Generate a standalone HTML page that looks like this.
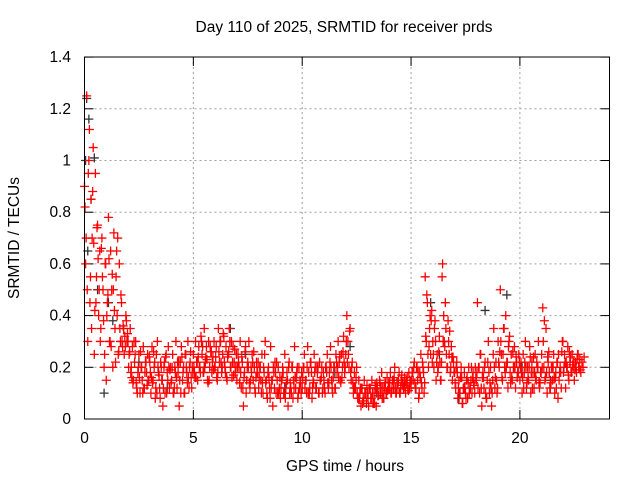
<!DOCTYPE html>
<html><head><meta charset="utf-8"><style>
body{margin:0;background:#fff}
svg{display:block;font-family:"Liberation Sans",sans-serif}
</style></head><body>
<svg id="chart" width="640" height="480" viewBox="0 0 640 480">
<rect width="640" height="480" fill="#fff"/>
<text x="344" y="32" font-size="15.5" text-anchor="middle">Day 110 of 2025, SRMTID for receiver prds</text>
<text x="345" y="471" font-size="15.5" text-anchor="middle">GPS time / hours</text>
<text transform="translate(19,238) rotate(-90)" font-size="15.5" text-anchor="middle">SRMTID / TECUs</text>
<g id="grid"></g>
<g id="ticks"></g>
<g id="pts"></g>
<rect x="84.5" y="57" width="525" height="362" fill="none" stroke="#000"/>
</svg>
<script>
const xTicks=[0,5,10,15,20];
const yTicks=[0,0.2,0.4,0.6,0.8,1,1.2,1.4];
const yTickLabels=["0","0.2","0.4","0.6","0.8","1","1.2","1.4"];
const redStep=0.05;
const redA=[
0.9,0.6,1.25,0.3,1.0,0.45,0.85,0.7,1.05,0.25,0.95,0.55,0.75,0.4,0.65,0.35,0.7,0.5,0.2,0.6,
0.15,0.45,0.78,0.3,0.65,0.5,0.2,0.72,0.35,0.55,0.4,0.25,0.6,0.3,0.45,0.28,0.35,0.32,0.4,0.3,
0.3,0.25,0.35,0.2,0.28,0.15,0.22,0.3,0.12,0.18,0.25,0.1,0.2,0.15,0.28,0.12,0.22,0.18,0.25,0.15,
0.22,0.1,0.28,0.15,0.2,0.08,0.25,0.3,0.18,0.12,0.22,0.15,0.05,0.2,0.1,0.25,0.18,0.28,0.12,0.2,
0.15,0.25,0.1,0.2,0.3,0.12,0.18,0.05,0.22,0.28,0.15,0.2,0.1,0.25,0.18,0.3,0.12,0.22,0.16,0.2,
0.25,0.18,0.3,0.22,0.15,0.28,0.2,0.32,0.25,0.18,0.35,0.22,0.28,0.15,0.3,0.2,0.26,0.18,0.24,0.3,
0.2,0.28,0.15,0.35,0.22,0.3,0.18,0.25,0.32,0.2,0.28,0.15,0.25,0.35,0.2,0.3,0.22,0.17,0.27,0.2,
0.15,0.25,0.2,0.3,0.12,0.22,0.05,0.18,0.28,0.15,0.22,0.3,0.12,0.2,0.25,0.15,0.2,0.1,0.22,0.18,
0.12,0.2,0.15,0.25,0.1,0.18,0.3,0.15,0.08,0.2,0.12,0.28,0.15,0.05,0.18,0.22,0.1,0.15,0.2,0.12,
0.08,0.15,0.2,0.1,0.25,0.12,0.18,0.05,0.22,0.14,0.1,0.2,0.15,0.28,0.12,0.18,0.08,0.2,0.15,0.1,
0.12,0.2,0.25,0.15,0.1,0.28,0.18,0.12,0.22,0.08,0.15,0.25,0.2,0.12,0.18,0.1,0.22,0.15,0.2,0.12,
0.15,0.1,0.2,0.25,0.12,0.18,0.28,0.15,0.1,0.2,0.12,0.25,0.18,0.3,0.22,0.15,0.25,0.2,0.32,0.18,
0.25,0.4,0.3,0.2,0.35,0.15,0.22,0.1,0.18,0.12,0.2,0.08,0.15,0.1,0.05,0.12,0.08,0.15,0.1,0.06,
0.1,0.05,0.12,0.08,0.15,0.06,0.1,0.13,0.05,0.12,0.09,0.15,0.1,0.18,0.12,0.08,0.14,0.1,0.16,0.12,
0.12,0.18,0.1,0.15,0.12,0.2,0.1,0.14,0.12,0.18,0.1,0.15,0.13,0.12,0.16,0.1,0.14,0.12,0.18,0.15,
0.12,0.18,0.15,0.22,0.12,0.2,0.15,0.08,0.18,0.25,0.12,0.2,0.1,0.55,0.3,0.45,0.2,0.35,0.25,0.42,
0.3,0.2,0.38,0.15,0.25,0.2,0.32,0.15,0.22,0.6,0.4,0.28,0.35,0.2,0.38,0.25,0.18,0.28,0.15,0.22,
0.18,0.12,0.22,0.08,0.15,0.1,0.2,0.06,0.12,0.18,0.1,0.15,0.08,0.2,0.12,0.15,0.1,0.18,0.13,0.2,
0.15,0.45,0.2,0.1,0.25,0.05,0.18,0.12,0.22,0.08,0.15,0.3,0.1,0.2,0.05,0.15,0.35,0.12,0.22,0.1,
0.3,0.2,0.5,0.25,0.15,0.35,0.2,0.4,0.22,0.12,0.3,0.18,0.25,0.15,0.2,0.28,0.12,0.22,0.18,0.25,
0.15,0.22,0.1,0.25,0.18,0.3,0.12,0.2,0.15,0.28,0.1,0.22,0.18,0.12,0.25,0.15,0.2,0.3,0.12,0.18,
0.25,0.43,0.2,0.15,0.35,0.1,0.22,0.18,0.12,0.2,0.15,0.25,0.1,0.18,0.22,0.08,0.15,0.2,0.12,0.3,
0.18,0.25,0.12,0.2,0.28,0.15,0.22,0.18,0.25,0.2,0.15,0.22,0.18,0.25,0.2,0.23,0.18,0.22,0.2,0.24];
const redBStart=0.025, redBStep=0.1;
const redB=[
0.82,0.5,1.12,0.35,0.68,0.45,0.62,0.3,0.55,0.25,
0.4,0.62,0.28,0.5,0.22,0.7,0.35,0.3,0.25,0.38,
0.2,0.18,0.14,0.25,0.1,0.16,0.2,0.12,0.22,0.15,
0.18,0.14,0.22,0.1,0.17,0.2,0.12,0.24,0.15,0.19,
0.2,0.12,0.16,0.22,0.1,0.18,0.25,0.14,0.2,0.12,
0.2,0.16,0.24,0.18,0.28,0.2,0.23,0.15,0.26,0.19,
0.24,0.18,0.3,0.2,0.22,0.16,0.26,0.2,0.28,0.18,
0.2,0.14,0.24,0.16,0.1,0.2,0.15,0.22,0.12,0.18,
0.16,0.1,0.2,0.14,0.18,0.08,0.15,0.12,0.22,0.1,
0.12,0.18,0.08,0.15,0.1,0.2,0.12,0.16,0.1,0.14,
0.16,0.12,0.2,0.1,0.18,0.14,0.12,0.2,0.15,0.1,
0.12,0.18,0.14,0.2,0.16,0.12,0.2,0.24,0.16,0.22,
0.3,0.25,0.18,0.14,0.12,0.1,0.08,0.12,0.07,0.1,
0.08,0.12,0.1,0.06,0.14,0.1,0.12,0.08,0.14,0.11,
0.14,0.12,0.16,0.1,0.15,0.12,0.14,0.13,0.16,0.12,
0.15,0.2,0.12,0.18,0.16,0.22,0.14,0.48,0.28,0.38,
0.25,0.3,0.18,0.22,0.55,0.3,0.25,0.3,0.2,0.24,
0.14,0.18,0.1,0.16,0.12,0.08,0.14,0.12,0.16,0.1,
0.18,0.2,0.12,0.16,0.1,0.22,0.14,0.1,0.2,0.15,
0.22,0.3,0.25,0.18,0.22,0.32,0.16,0.2,0.24,0.18,
0.2,0.16,0.22,0.14,0.2,0.18,0.24,0.16,0.2,0.14,
0.2,0.38,0.18,0.26,0.14,0.2,0.16,0.22,0.18,0.26,
0.2,0.22,0.17,0.24,0.21,0.19,0.23,0.2];
const redCStart=0.075, redCStep=0.1;
const redC=[
0.7,0.95,0.55,0.88,0.42,0.74,0.5,0.66,0.38,0.6,
0.48,0.3,0.56,0.42,0.65,0.26,0.48,0.36,0.28,0.33,
0.26,0.16,0.3,0.14,0.2,0.26,0.1,0.18,0.13,0.24,
0.16,0.26,0.12,0.2,0.08,0.15,0.22,0.1,0.2,0.14,
0.1,0.18,0.22,0.15,0.24,0.1,0.2,0.16,0.26,0.18,
0.16,0.22,0.2,0.3,0.18,0.24,0.14,0.28,0.22,0.2,
0.16,0.26,0.22,0.33,0.18,0.24,0.3,0.16,0.22,0.25,
0.22,0.18,0.12,0.26,0.2,0.14,0.18,0.26,0.16,0.22,
0.2,0.14,0.25,0.1,0.16,0.12,0.2,0.18,0.1,0.16,
0.16,0.1,0.14,0.2,0.12,0.08,0.16,0.2,0.12,0.18,
0.2,0.15,0.1,0.22,0.12,0.18,0.2,0.1,0.16,0.18,
0.2,0.14,0.22,0.12,0.2,0.22,0.16,0.14,0.26,0.2,
0.22,0.34,0.2,0.12,0.16,0.08,0.12,0.06,0.1,0.13,
0.12,0.08,0.06,0.12,0.09,0.14,0.08,0.12,0.1,0.14,
0.1,0.15,0.12,0.14,0.1,0.17,0.12,0.15,0.11,0.14,
0.18,0.14,0.2,0.1,0.14,0.18,0.32,0.25,0.4,0.22,
0.35,0.22,0.26,0.15,0.3,0.45,0.2,0.34,0.24,0.18,
0.2,0.12,0.16,0.06,0.12,0.16,0.1,0.2,0.14,0.16,
0.12,0.25,0.16,0.2,0.08,0.18,0.12,0.25,0.16,0.12,
0.26,0.16,0.35,0.2,0.28,0.14,0.26,0.2,0.16,0.22,
0.18,0.12,0.2,0.16,0.24,0.12,0.18,0.22,0.14,0.18,
0.3,0.16,0.24,0.12,0.2,0.16,0.12,0.25,0.18,0.3,
0.22,0.2,0.26,0.18,0.22,0.2,0.25,0.19];
const blackT=[0.05,0.1,0.15,0.2,0.3,0.45,0.6,0.9,1.1,1.3,2.5,3.8,5.5,6.7,7.4,9.2,11.5,12.2,13.4,15.9,16.3,17.2,18.4,19.4,20.1,21.4,22.3];
const blackV=[1.0,1.24,0.65,1.16,0.85,1.01,0.5,0.1,0.45,0.38,0.22,0.12,0.2,0.35,0.25,0.12,0.18,0.28,0.1,0.45,0.25,0.08,0.42,0.48,0.2,0.15,0.22];

const X=h=>84.5+h*21.77, Y=v=>419-v*258.5;
const NS="http://www.w3.org/2000/svg";
const grid=document.getElementById('grid'), ticks=document.getElementById('ticks'), pts=document.getElementById('pts');
function line(p,x1,y1,x2,y2,st,dash){const l=document.createElementNS(NS,'line');l.setAttribute('x1',x1);l.setAttribute('y1',y1);l.setAttribute('x2',x2);l.setAttribute('y2',y2);l.setAttribute('stroke',st);if(dash)l.setAttribute('stroke-dasharray',dash);p.appendChild(l);return l;}
function text(p,x,y,s,anchor){const t=document.createElementNS(NS,'text');t.setAttribute('x',x);t.setAttribute('y',y);t.setAttribute('font-size','15.5');t.setAttribute('text-anchor',anchor);t.textContent=s;p.appendChild(t);return t;}
yTicks.forEach((v,i)=>{const y=Y(v);
 if(v>0&&v<1.4){const g=line(grid,84.5,y,609.5,y,'#a0a0a0','2,3');
 
 }
 line(ticks,84.5,y,93.5,y,'#000');line(ticks,600.5,y,609.5,y,'#000');
 const t=text(ticks,71,y+5,yTickLabels[i],'end');
 
 
});
xTicks.forEach(h=>{const x=X(h);
 if(h>0){const g=line(grid,x,57,x,419,'#a0a0a0','2,3');
 
 }
 line(ticks,x,419,x,410,'#000');line(ticks,x,57,x,66,'#000');
 const t=text(ticks,x,443,String(h),'middle');
 
 
});
function plus(x,y,c,name){const p=document.createElementNS(NS,'path');
 p.setAttribute('d',`M${x-4.5},${y}h9M${x},${y-4.5}v9`);p.setAttribute('stroke',c);p.setAttribute('stroke-width','1.3');
 
 
 pts.appendChild(p);}
blackT.forEach((t,i)=>plus(X(t),Y(blackV[i]),'#333','black-point'));
redA.forEach((v,i)=>plus(X(i*redStep),Y(v),'#ff0000','red-point'));
redB.forEach((v,i)=>plus(X(redBStart+i*redBStep),Y(v),'#ff0000','red-point'));
redC.forEach((v,i)=>plus(X(redCStart+i*redCStep),Y(v),'#ff0000','red-point'));
</script>
</body></html>
